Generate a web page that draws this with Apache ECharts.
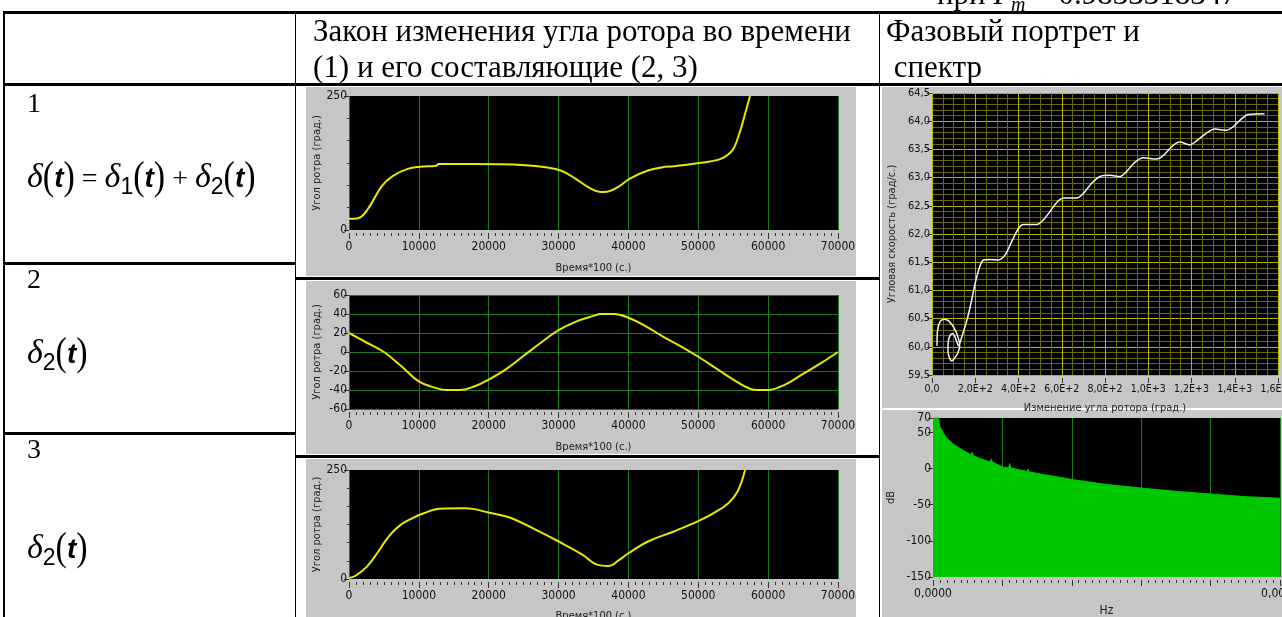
<!DOCTYPE html>
<html><head><meta charset="utf-8">
<script src="https://cdn.jsdelivr.net/npm/echarts@6/dist/echarts.min.js"></script>
<style>
body{margin:0;background:#fff;width:1282px;height:617px;overflow:hidden;position:relative;}
.ln{position:absolute;background:#000;z-index:2;}
.panel{position:absolute;background:#c6c6c6;z-index:1;}
.tx{position:absolute;white-space:nowrap;color:#000;font-family:'Liberation Serif','Times New Roman',serif;font-size:31px;line-height:31px;z-index:4;}
.num{font-size:28px;line-height:28px;}
#chart{position:absolute;left:0;top:0;width:1282px;height:617px;z-index:3;}
.f{position:absolute;white-space:nowrap;z-index:4;color:#000;font-size:34px;line-height:40px;}
.d{font-family:'Liberation Serif',serif;font-style:italic;font-size:34px;}
.p{font-family:'Liberation Serif',serif;display:inline-block;transform:scaleY(1.15);font-size:34px;}
.t{font-family:'Liberation Sans',Arial,sans-serif;font-style:italic;font-weight:bold;font-size:28px;}
.s{font-family:'Liberation Sans',Arial,sans-serif;font-size:23px;position:relative;top:7px;}
.o{font-family:'Liberation Serif',serif;font-size:28px;}
</style></head>
<body>
<div class="panel" style="left:306px;top:87px;width:550px;height:189px"></div>
<div class="panel" style="left:306px;top:281px;width:550px;height:173px"></div>
<div class="panel" style="left:306px;top:459px;width:550px;height:158px"></div>
<div class="panel" style="left:882px;top:87px;width:400px;height:321px"></div>
<div class="panel" style="left:882px;top:410px;width:400px;height:207px"></div>

<div class="ln" style="left:3px;top:11px;width:1279px;height:3px"></div>
<div class="ln" style="left:3px;top:83px;width:1279px;height:3px"></div>
<div class="ln" style="left:3px;top:262px;width:293px;height:3px"></div>
<div class="ln" style="left:3px;top:432px;width:293px;height:3px"></div>
<div class="ln" style="left:296px;top:277px;width:584px;height:3px"></div>
<div class="ln" style="left:296px;top:455px;width:584px;height:3px"></div>
<div class="ln" style="left:3px;top:11px;width:2px;height:606px"></div>
<div class="ln" style="left:295px;top:11px;width:1px;height:606px"></div>
<div class="ln" style="left:879px;top:11px;width:1px;height:606px"></div>

<div class="tx" style="left:937px;top:-22px">при <i>Γ<sub style="font-size:20px">m</sub></i> = 0.9833318347</div>
<div class="tx" style="left:313px;top:15px">Закон изменения угла ротора во времени</div>
<div class="tx" style="left:313px;top:51px">(1) и его составляющие (2, 3)</div>
<div class="tx" style="left:886px;top:15px">Фазовый портрет и</div>
<div class="tx" style="left:886px;top:51px">&nbsp;спектр</div>
<div class="tx num" style="left:27px;top:89px">1</div>
<div class="tx num" style="left:27px;top:265px">2</div>
<div class="tx num" style="left:27px;top:435px">3</div>

<div class="f" style="left:27px;top:156px"><span class="d">δ</span><span class="p">(</span><span class="t">t</span><span class="p">)</span><span class="o"> = </span><span class="d">δ</span><span class="s">1</span><span class="p">(</span><span class="t">t</span><span class="p">)</span><span class="o"> + </span><span class="d">δ</span><span class="s">2</span><span class="p">(</span><span class="t">t</span><span class="p">)</span></div>
<div class="f" style="left:27px;top:332px"><span class="d">δ</span><span class="s">2</span><span class="p">(</span><span class="t">t</span><span class="p">)</span></div>
<div class="f" style="left:27px;top:527px"><span class="d">δ</span><span class="s">2</span><span class="p">(</span><span class="t">t</span><span class="p">)</span></div>

<div id="chart"></div>
<script>
// ---- data ----
const timeTicks = [0, 10000, 20000, 30000, 40000, 50000, 60000, 70000];

const t1 = [0, 1300, 2600, 4700, 6300, 8400, 10200, 12500, 12800, 17800, 25300, 28200, 30300, 32400, 34500, 36000, 37100, 38700, 40200, 42800, 44900, 46500, 49100, 51700, 53300, 54900, 55900, 56700, 57400];
const delta = [21, 22, 37, 82, 101, 114, 118, 120, 123, 123, 121, 117, 111, 96, 78, 71, 72, 82, 96, 111, 117, 119, 123, 128, 133, 149, 181, 217, 250];

const t2 = [0, 2500, 5000, 7500, 10000, 12500, 14000, 16000, 18000, 20000, 22500, 25000, 27500, 30000, 32500, 35000, 36000, 38000, 40000, 42500, 45000, 47500, 50000, 52500, 55000, 57500, 58500, 60000, 62500, 65000, 67500, 70000];
const delta2 = [20, 10, 0, -15, -31, -38, -40, -40, -36, -29, -18, -4, 10, 23, 32, 38, 40, 40, 36, 27, 16, 6, -5, -17, -29, -39, -40, -40, -34, -23, -12, 0];

const t3 = [0, 1000, 2600, 4200, 5700, 7300, 8900, 10400, 13000, 16700, 20100, 23000, 27200, 30000, 33400, 35500, 37100, 38700, 40000, 42800, 46500, 49900, 52200, 54300, 55600, 56700];
const delta1 = [2, 8, 29, 63, 98, 123, 138, 149, 161, 162, 152, 141, 109, 86, 56, 33, 30, 44, 59, 86, 109, 132, 151, 174, 200, 250];

const phaseAngle = [23, 26, 38, 57, 77, 103, 122, 128, 118, 105, 92, 80, 74, 75, 85, 97, 109, 123, 138, 162, 180, 200, 218, 238, 269, 308, 338, 369, 400, 423, 485, 515, 546, 577, 608, 669, 700, 738, 777, 823, 869, 900, 938, 977, 1038, 1069, 1115, 1146, 1192, 1223, 1269, 1308, 1362, 1392, 1431, 1462, 1538];
const phaseSpeed = [60.02, 60.30, 60.45, 60.49, 60.46, 60.33, 60.15, 60.01, 59.88, 59.80, 59.75, 59.81, 59.94, 60.09, 60.21, 60.23, 60.15, 60.02, 60.18, 60.48, 60.77, 61.13, 61.39, 61.54, 61.55, 61.54, 61.63, 61.87, 62.10, 62.17, 62.17, 62.25, 62.40, 62.56, 62.64, 62.64, 62.72, 62.90, 63.02, 63.04, 63.02, 63.11, 63.27, 63.35, 63.33, 63.39, 63.57, 63.63, 63.58, 63.65, 63.79, 63.86, 63.84, 63.90, 64.04, 64.12, 64.13];
const phaseXTicks = [0, 200, 400, 600, 800, 1000, 1200, 1400, 1600];
const phaseYTicks = [59.5, 60, 60.5, 61, 61.5, 62, 62.5, 63, 63.5, 64, 64.5];

const specFreq = [0, 0.014, 0.019, 0.029, 0.038, 0.058, 0.087, 0.110, 0.113, 0.116, 0.135, 0.165, 0.168, 0.171, 0.202, 0.218, 0.221, 0.224, 0.271, 0.274, 0.277, 0.324, 0.327, 0.330, 0.399, 0.5, 0.601, 0.712, 0.798, 0.904, 1];
const specDb = [72, 72, 59, 50, 43, 34, 25, 19, 23, 18, 14, 9, 13, 9, 2, 1, 7, 1, -4, -1, -4.5, -9, -7, -9, -15, -22, -27, -32, -35, -39, -41];
const specYTicks = [-150, -100, -50, 0, 50, 70];
const specXLabels = ['0,0000', '0,0010'];

// ---- chart ----
const FONT = "'Liberation Sans Narrow','DejaVu Sans Condensed','Liberation Sans',sans-serif";
const lbl = {color: '#111', fontFamily: FONT, fontSize: 12};
const nameStyle = {color: '#222', fontFamily: FONT, fontSize: 11};
const green = '#1e7a1e';
const yellowMaj = '#b8b800';
const yellowMin = '#6a6a00';

function pairs(xs, ys) { return xs.map((x, i) => [x, ys[i]]); }

function timeX(gi, nameGap) {
  return {
    type: 'value', gridIndex: gi, min: timeTicks[0], max: timeTicks[timeTicks.length - 1], interval: 10000, offset: 3,
    axisLine: {show: false, onZero: false},
    axisTick: {show: true, length: 6, lineStyle: {color: '#333'}},
    minorTick: {show: true, splitNumber: 10, length: 3, lineStyle: {color: '#333'}},
    axisLabel: Object.assign({margin: 8, formatter: v => String(v)}, lbl),
    splitLine: {show: true, lineStyle: {color: green, width: 1}},
    name: 'Время*100 (с.)', nameLocation: 'middle', nameGap: nameGap, nameTextStyle: nameStyle
  };
}
function angleY(gi, min, max, interval, split, minor) {
  return {
    type: 'value', gridIndex: gi, min: min, max: max, interval: interval,
    axisLine: {show: false, onZero: false},
    axisTick: {show: true, length: 5, lineStyle: {color: '#333'}},
    minorTick: {show: minor, splitNumber: 6, length: 2, lineStyle: {color: '#333'}},
    axisLabel: Object.assign({margin: 2}, lbl),
    splitLine: {show: split, lineStyle: {color: green, width: 1}},
    name: 'Угол ротра (град.)', nameLocation: 'middle', nameGap: 26, nameTextStyle: nameStyle
  };
}
function expFmt(v) {
  if (v === 0) return '0,0';
  const e = Math.floor(Math.log10(v) + 1e-9);
  const m = v / Math.pow(10, e);
  return m.toFixed(1).replace('.', ',') + 'E+' + e;
}
const yellowLine = {color: '#e8e800', width: 2};
const gridBase = {show: true, backgroundColor: '#000', borderWidth: 0, outerBoundsMode: 'none', containLabel: false};

const option = {
  animation: false,
  backgroundColor: 'transparent',
  grid: [
    Object.assign({left: 349, top: 96, width: 489, height: 134}, gridBase),
    Object.assign({left: 349, top: 295, width: 489, height: 114}, gridBase),
    Object.assign({left: 349, top: 470, width: 489, height: 109}, gridBase),
    Object.assign({left: 932, top: 93, width: 346, height: 282}, gridBase),
    Object.assign({left: 933, top: 418, width: 347, height: 159}, gridBase)
  ],
  xAxis: [
    timeX(0, 30), timeX(1, 30), timeX(2, 29),
    {
      type: 'value', gridIndex: 3, min: phaseXTicks[0], max: phaseXTicks[phaseXTicks.length - 1], interval: 200, offset: 3,
      axisLine: {show: false, onZero: false},
      axisTick: {show: true, length: 5, lineStyle: {color: '#333'}},
      axisLabel: Object.assign({}, lbl, {margin: 6, fontSize: 10.5, formatter: expFmt}),
      splitLine: {show: true, lineStyle: {color: yellowMaj, width: 1}},
      minorTick: {show: false, splitNumber: 4},
      minorSplitLine: {show: true, lineStyle: {color: yellowMin, width: 1}},
      name: 'Изменение угла ротора (град.)', nameLocation: 'middle', nameGap: 25, nameTextStyle: nameStyle
    },
    {
      type: 'value', gridIndex: 4, min: 0, max: 1, interval: 0.2, offset: 3,
      axisLine: {show: false, onZero: false},
      axisTick: {show: true, length: 6, lineStyle: {color: '#333'}},
      minorTick: {show: true, splitNumber: 10, length: 3, lineStyle: {color: '#333'}},
      axisLabel: Object.assign({margin: 8, formatter: v => (v < 0.001 ? specXLabels[0] : (v > 0.999 ? specXLabels[1] : ''))}, lbl),
      splitLine: {show: true, lineStyle: {color: green, width: 1}},
      name: 'Hz', nameLocation: 'middle', nameGap: 25, nameTextStyle: Object.assign({}, nameStyle, {fontSize: 12})
    }
  ],
  yAxis: [
    angleY(0, 0, 250, 250, false, true),
    angleY(1, -60, 60, 20, true, false),
    angleY(2, 0, 250, 250, false, true),
    {
      type: 'value', gridIndex: 3, min: phaseYTicks[0], max: phaseYTicks[phaseYTicks.length - 1], interval: 0.5,
      axisLine: {show: false, onZero: false},
      axisTick: {show: true, length: 5, lineStyle: {color: '#333'}},
      axisLabel: Object.assign({}, lbl, {margin: 2, fontSize: 11, formatter: v => v.toFixed(1).replace('.', ',')}),
      splitLine: {show: true, lineStyle: {color: yellowMaj, width: 1}},
      minorTick: {show: false, splitNumber: 5},
      minorSplitLine: {show: true, lineStyle: {color: yellowMin, width: 1}},
      name: 'Угловая скорость (град/с.)', nameLocation: 'middle', nameGap: 34, nameTextStyle: nameStyle
    },
    {
      type: 'value', gridIndex: 4, min: -150, max: 70,
      axisLine: {show: false, onZero: false},
      axisTick: {show: true, length: 5, customValues: specYTicks, lineStyle: {color: '#333'}},
      axisLabel: Object.assign({margin: 2, customValues: specYTicks}, lbl),
      splitLine: {show: false},
      name: 'dB', nameLocation: 'middle', nameGap: 36, nameTextStyle: nameStyle
    }
  ],
  series: [
    {type: 'line', xAxisIndex: 0, yAxisIndex: 0, data: pairs(t1, delta), smooth: 0.4, showSymbol: false, lineStyle: yellowLine},
    {type: 'line', xAxisIndex: 1, yAxisIndex: 1, data: pairs(t2, delta2), smooth: 0.4, showSymbol: false, lineStyle: yellowLine},
    {type: 'line', xAxisIndex: 2, yAxisIndex: 2, data: pairs(t3, delta1), smooth: 0.4, showSymbol: false, lineStyle: yellowLine},
    {type: 'line', xAxisIndex: 3, yAxisIndex: 3, data: pairs(phaseAngle, phaseSpeed), smooth: 0.3, showSymbol: false, lineStyle: {color: '#f4f4f4', width: 1.5}},
    {type: 'line', xAxisIndex: 4, yAxisIndex: 4, data: pairs(specFreq, specDb), showSymbol: false,
      lineStyle: {color: '#00c800', width: 1}, areaStyle: {color: '#00c800', opacity: 1, origin: 'start'}}
  ]
};
const chart = echarts.init(document.getElementById('chart'));
chart.setOption(option);
</script>
</body></html>
